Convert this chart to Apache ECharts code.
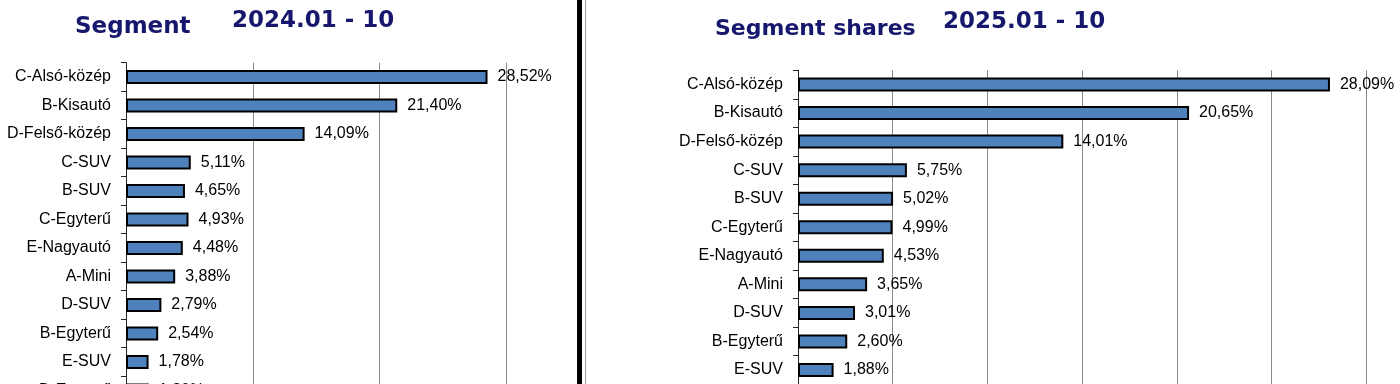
<!DOCTYPE html>
<html>
<head>
<meta charset="utf-8">
<script src="https://cdn.jsdelivr.net/npm/echarts@6/dist/echarts.min.js"></script>
<style>
html,body{margin:0;padding:0;background:#fff;}
#c{width:1400px;height:384px;}
</style>
</head>
<body>
<div id="c"></div>
<script>
// ---- data ----
const categories2024 = ['C-Alsó-közép','B-Kisautó','D-Felső-közép','C-SUV','B-SUV','C-Egyterű','E-Nagyautó','A-Mini','D-SUV','B-Egyterű','E-SUV','D-Egyterű'];
const values2024 = [28.52, 21.40, 14.09, 5.11, 4.65, 4.93, 4.48, 3.88, 2.79, 2.54, 1.78, 1.80];
const categories2025 = ['C-Alsó-közép','B-Kisautó','D-Felső-közép','C-SUV','B-SUV','C-Egyterű','E-Nagyautó','A-Mini','D-SUV','B-Egyterű','E-SUV'];
const values2025 = [28.09, 20.65, 14.01, 5.75, 5.02, 4.99, 4.53, 3.65, 3.01, 2.60, 1.88];
const titleLeft = ['Segment', '2024.01 - 10'];
const titleRight = ['Segment shares', '2025.01 - 10'];

const navy = '#17176e';
const font = '"Liberation Sans", Arial, sans-serif';
const tFont = '"DejaVu Sans", Verdana, sans-serif';
const fmt = p => p.value.toFixed(2).replace('.', ',') + '%';

function xAx(gi, max, interval) {
  return {
    type: 'value', gridIndex: gi, min: 0, max: max, interval: interval,
    axisLabel: {show: false}, axisLine: {show: false}, axisTick: {show: false},
    splitLine: {show: true, showMaxLine: false, lineStyle: {color: '#8a8a8a', width: 1}}
  };
}
function yAx(gi, cats) {
  return {
    type: 'category', gridIndex: gi, data: cats, inverse: true,
    axisLine: {show: true, lineStyle: {color: '#222', width: 1}},
    axisTick: {show: true, length: 5, lineStyle: {color: '#222'}},
    axisLabel: {color: '#000', fontSize: 16, fontFamily: font, margin: 15},
    splitLine: {show: false}
  };
}
function barSeries(i, vals) {
  return {
    type: 'bar', xAxisIndex: i, yAxisIndex: i, data: vals, barWidth: 14,
    itemStyle: {color: '#4f81bd', borderColor: '#000', borderWidth: 2},
    label: {show: true, position: 'right', distance: 10, formatter: fmt,
            color: '#000', fontSize: 16, fontFamily: font},
    silent: true, animation: false
  };
}

const chart = echarts.init(document.getElementById('c'), null, {renderer: 'canvas'});
chart.setOption({
  animation: false,
  backgroundColor: '#fff',
  title: [
    {text: titleLeft[0], left: 70, top: 11, textStyle: {color: navy, fontSize: 23, fontWeight: 'bold', fontFamily: tFont}},
    {text: titleLeft[1], left: 227, top: 5, textStyle: {color: navy, fontSize: 23, fontWeight: 'bold', fontFamily: tFont}},
    {text: titleRight[0], left: 710, top: 13, textStyle: {color: navy, fontSize: 22, fontWeight: 'bold', fontFamily: tFont}},
    {text: titleRight[1], left: 938, top: 6, textStyle: {color: navy, fontSize: 23, fontWeight: 'bold', fontFamily: tFont}}
  ],
  grid: [
    {left: 126, top: 62.7, width: 453.8, height: 28.5 * categories2024.length, containLabel: false, outerBoundsMode: 'none'},
    {left: 798, top: 70.2, width: 606, height: 28.55 * categories2025.length, containLabel: false, outerBoundsMode: 'none'}
  ],
  xAxis: [xAx(0, 35.8, 10), xAx(1, 32, 5)],
  yAxis: [yAx(0, categories2024), yAx(1, categories2025)],
  series: [barSeries(0, values2024), barSeries(1, values2025)],
  graphic: [
    {type: 'rect', shape: {x: 577, y: 0, width: 5, height: 384}, style: {fill: '#000'}, z: 100},
    {type: 'rect', shape: {x: 585, y: 0, width: 1, height: 384}, style: {fill: '#9a9a9a'}, z: 100}
  ]
});
</script>
</body>
</html>
